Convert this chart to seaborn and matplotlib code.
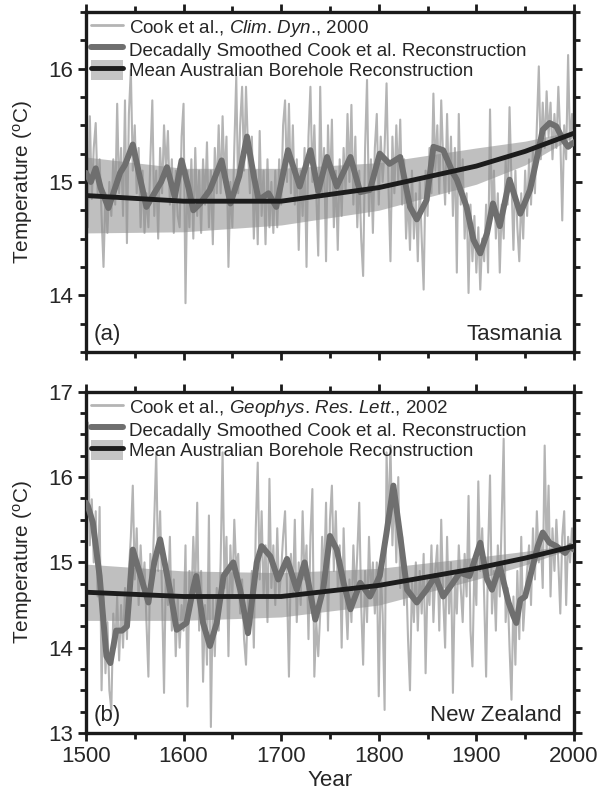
import numpy as np
import matplotlib
matplotlib.use("Agg")
import matplotlib.pyplot as plt
import seaborn as sns
from matplotlib.ticker import MultipleLocator
from matplotlib.lines import Line2D
from matplotlib.patches import Patch

# Annual reconstructions, read every second year (1500, 1502, ... 2000)
annual_years = list(range(1500, 2001, 2))

tas_annual = [
    15.1, 14.6, 15.58, 14.85, 15.3, 15.52, 14.9, 15.2, 14.7, 14.25,
    14.9, 14.55, 15.0, 14.7, 15.2, 14.8, 15.69, 14.9, 15.3, 14.7,
    15.72, 14.46, 15.6, 15.99, 15.1, 15.5, 14.9, 15.3, 14.6, 15.1,
    14.55, 14.9, 14.6, 15.2, 15.72, 14.7, 15.1, 14.5, 15.3, 14.9,
    15.5, 15.1, 15.45, 14.8, 15.2, 14.55, 15.1, 14.7, 14.6, 15.4,
    15.69, 13.93, 15.1, 14.6, 15.2, 14.5, 15.3, 14.7, 15.1, 14.55,
    15.2, 14.8, 15.35, 14.6, 15.1, 14.45, 15.3, 14.9, 15.5, 14.9,
    15.58, 15.0, 15.4, 14.25, 15.0, 14.6, 15.3, 15.93, 14.9, 15.5,
    15.84, 15.1, 15.84, 15.3, 14.9, 15.4, 14.5, 15.1, 14.45, 15.45,
    14.7, 15.1, 14.45, 15.2, 14.6, 15.0, 14.55, 15.1, 14.6, 15.2,
    14.8, 15.5, 15.72, 15.0, 15.69, 14.9, 15.5, 14.8, 15.2, 14.4,
    15.1, 14.7, 15.3, 14.25, 15.4, 15.84, 15.0, 15.5, 14.9, 14.35,
    15.84, 14.9, 15.3, 14.3, 15.5, 14.9, 15.55, 14.6, 15.1, 14.4,
    15.2, 14.7, 15.3, 14.9, 15.6, 15.0, 15.68, 14.8, 15.4, 14.6,
    15.1, 14.5, 14.17, 15.3, 15.9, 14.7, 15.2, 14.55, 15.3, 15.6,
    14.8, 15.4, 15.0, 15.3, 15.87, 14.95, 14.3, 15.4, 14.9, 15.5,
    15.0, 15.55, 14.8, 15.2, 14.5, 14.9, 14.4, 15.1, 14.5, 14.9,
    14.3, 15.0, 14.5, 14.05, 15.1, 14.7, 15.3, 14.9, 15.78, 15.1,
    15.5, 14.9, 15.72, 15.2, 14.8, 15.6, 14.9, 15.4, 14.7, 15.3,
    14.2, 15.6, 14.8, 15.2, 14.5, 14.9, 14.02, 14.8, 14.3, 14.7,
    14.2, 14.6, 14.05, 14.5, 14.3, 14.8, 14.2, 15.64, 14.7, 15.1,
    14.5, 14.9, 14.2, 14.8, 14.5, 15.2, 14.8, 15.66, 15.0, 14.4,
    15.1, 14.6, 14.3, 14.9, 14.5, 15.1, 14.7, 15.2, 14.8, 15.3,
    14.9, 15.5, 16.02, 15.2, 15.7, 15.3, 15.8, 15.4, 15.7, 15.2,
    15.6, 15.3, 15.84, 15.4, 14.66, 15.5, 15.2, 16.12, 15.3, 15.6,
    15.4,
]

nz_annual = [
    15.3, 16.64, 15.2, 15.74, 15.0, 15.6, 14.6, 15.65, 13.5, 14.6,
    13.7, 14.3, 13.5, 13.27, 14.4, 14.0, 14.6, 13.85, 14.5, 14.0,
    14.7, 14.1, 14.9, 15.3, 15.9, 14.8, 15.4, 14.5, 15.2, 14.7,
    15.0, 14.3, 13.66, 15.1, 14.8, 15.5, 16.29, 14.9, 15.6, 14.6,
    13.47, 15.0, 14.5, 15.3, 14.2, 14.8, 13.9, 14.6, 14.0, 14.5,
    14.2, 15.2, 13.31, 14.9, 14.5, 15.3, 14.7, 15.7, 14.2, 14.9,
    13.6, 14.5, 13.8, 15.55, 13.07, 14.6, 13.9, 14.7, 14.2, 15.0,
    16.29, 14.7, 15.3, 13.9, 15.2, 14.6, 15.5, 14.9, 15.1, 14.4,
    14.8, 14.1, 13.8, 14.6, 14.3, 14.9, 14.0, 15.4, 16.17, 14.8,
    15.6, 14.6, 15.2, 14.3, 15.98, 14.7, 15.2, 14.5, 15.4, 14.6,
    14.9, 15.3, 15.6, 14.7, 13.66, 15.1, 14.6, 15.5, 14.3, 15.0,
    14.5, 15.6, 14.8, 15.2, 14.1, 15.3, 15.86, 13.66, 14.3, 13.9,
    14.4, 15.3, 14.8, 15.7, 14.2, 15.5, 15.9, 14.9, 15.6, 14.7,
    15.2, 14.0, 15.4, 14.6, 14.1, 14.8, 14.3, 15.2, 14.6, 15.1,
    15.7, 14.5, 13.8, 14.9, 14.3, 15.3, 14.6, 15.0, 14.4, 15.0,
    13.43, 14.9, 14.4, 13.27, 16.29, 15.4, 16.37, 15.2, 15.9, 15.0,
    16.0, 14.7, 15.3, 14.5, 14.9, 14.1, 13.5, 14.8, 14.3, 15.0,
    14.2, 14.9, 14.4, 15.1, 13.7, 14.8, 14.5, 15.2, 14.3, 14.9,
    15.2, 14.2, 15.5, 14.6, 14.0, 15.3, 14.4, 15.0, 13.47, 14.8,
    14.4, 15.2, 14.7, 14.3, 15.1, 14.6, 15.78, 14.2, 13.78, 15.0,
    14.5, 15.95, 14.9, 15.4, 14.6, 13.66, 15.1, 16.02, 14.4, 14.9,
    14.2, 15.2, 14.6, 15.5, 16.45, 14.3, 14.7, 14.0, 13.39, 14.6,
    13.8, 14.9, 14.1, 15.3, 14.2, 14.6, 14.9, 15.2, 14.5, 15.4,
    14.8, 15.6, 15.0, 15.3, 14.7, 16.37, 15.1, 15.9, 14.6, 15.4,
    14.9, 15.5, 15.0, 14.4, 15.3, 15.6, 14.5, 15.3, 15.0, 15.4,
    15.2,
]

# Decadally smoothed series (turning points)
tas_smooth_years = [1500, 1505, 1510, 1515, 1523, 1530, 1535, 1540, 1548, 1555,
                    1562, 1570, 1577, 1583, 1591, 1598, 1605, 1610, 1617, 1627,
                    1639, 1648, 1657, 1665, 1672, 1677, 1687, 1695, 1707, 1719,
                    1730, 1738, 1747, 1757, 1771, 1781, 1791, 1801, 1811, 1822,
                    1832, 1839, 1849, 1856, 1866, 1876, 1880, 1890, 1897, 1904,
                    1911, 1917, 1924, 1934, 1945, 1955, 1963, 1968, 1975, 1982,
                    1989, 1994, 2000]
tas_smooth = [15.08, 15.0, 15.12, 14.95, 14.77, 14.95, 15.08, 15.15, 15.33, 15.05,
              14.78, 14.9, 15.0, 15.13, 14.87, 15.19, 14.95, 14.75, 14.81, 14.93,
              15.19, 14.81, 15.05, 15.4, 15.05, 14.84, 14.9, 14.78, 15.28, 14.96,
              15.28, 14.92, 15.22, 14.96, 15.22, 14.91, 14.93, 15.25, 15.16, 15.22,
              14.78, 14.67, 14.84, 15.31, 15.28, 15.08, 15.02, 14.78, 14.49, 14.37,
              14.55, 14.81, 14.61, 15.02, 14.72, 14.93, 15.25, 15.46, 15.52, 15.49,
              15.37, 15.31, 15.35]

nz_smooth_years = [1500, 1502, 1507, 1514, 1521, 1525, 1531, 1537, 1542, 1548,
                   1555, 1564, 1570, 1576, 1586, 1593, 1603, 1610, 1613, 1620,
                   1627, 1634, 1641, 1651, 1658, 1666, 1675, 1680, 1689, 1697,
                   1706, 1716, 1724, 1735, 1743, 1750, 1757, 1764, 1771, 1781,
                   1791, 1801, 1808, 1815, 1822, 1829, 1839, 1849, 1858, 1866,
                   1876, 1883, 1893, 1904, 1911, 1916, 1924, 1933, 1938, 1941,
                   1945, 1950, 1957, 1963, 1968, 1975, 1982, 1991, 1996, 2000]
nz_smooth = [15.7, 15.66, 15.47, 14.84, 13.9, 13.82, 14.2, 14.2, 14.25, 15.15,
             14.88, 14.53, 15.0, 15.27, 14.68, 14.21, 14.29, 14.7, 14.84, 14.29,
             14.02, 14.29, 14.84, 15.0, 14.68, 14.17, 15.0, 15.19, 15.07, 14.8,
             15.04, 14.68, 15.0, 14.33, 14.68, 15.31, 15.15, 14.76, 14.45, 14.76,
             14.6, 14.84, 15.35, 15.9, 15.31, 14.68, 14.53, 14.68, 14.84, 14.6,
             14.76, 14.88, 14.84, 15.23, 14.8, 14.68, 14.96, 14.53, 14.37, 14.29,
             14.56, 14.6, 14.92, 15.19, 15.35, 15.23, 15.19, 15.11, 15.19, 15.15]

# Mean borehole reconstruction with its uncertainty band
bh_years = [1500, 1600, 1700, 1800, 1900, 1950, 2000]
tas_bh = [14.88, 14.83, 14.83, 14.95, 15.14, 15.27, 15.43]
tas_bh_hi = [15.22, 15.12, 15.12, 15.17, 15.3, 15.36, 15.45]
tas_bh_lo = [14.55, 14.56, 14.62, 14.75, 14.98, 15.15, 15.4]
nz_bh = [14.65, 14.6, 14.6, 14.73, 14.93, 15.05, 15.19]
nz_bh_hi = [14.98, 14.9, 14.88, 14.93, 15.06, 15.13, 15.21]
nz_bh_lo = [14.32, 14.32, 14.36, 14.5, 14.8, 14.97, 15.17]

sns.set_style("ticks")
plt.rcParams['font.family'] = ['Liberation Sans', 'DejaVu Sans']
plt.rcParams['mathtext.fontset'] = 'custom'
plt.rcParams['mathtext.rm'] = 'Liberation Sans'
plt.rcParams['mathtext.it'] = 'Liberation Sans:italic'

c_annual = '#b4b4b4'
c_smooth = '#6f6f6f'
c_bh = '#1c1c1c'
c_band = '#8c8c8c'

fig = plt.figure(figsize=(6.01, 7.98), dpi=100)
ax1 = fig.add_axes([0.143, 0.559, 0.812, 0.426])
ax2 = fig.add_axes([0.143, 0.0815, 0.812, 0.4275])

panels = [
    (ax1, tas_annual, tas_smooth_years, tas_smooth, tas_bh, tas_bh_hi, tas_bh_lo,
     "Cook et al., $\\mathit{Clim}$. $\\mathit{Dyn}$., 2000",
     (13.5, 16.5), [14, 15, 16], "(a)", "Tasmania"),
    (ax2, nz_annual, nz_smooth_years, nz_smooth, nz_bh, nz_bh_hi, nz_bh_lo,
     "Cook et al., $\\mathit{Geophys}$. $\\mathit{Res}$. $\\mathit{Lett}$., 2002",
     (13, 17), [13, 14, 15, 16, 17], "(b)", "New Zealand"),
]

for ax, annual, sm_years, sm, bh, bh_hi, bh_lo, lab, ylim, yticks, tag, region in panels:
    sns.lineplot(x=annual_years, y=annual, ax=ax, color=c_annual, lw=1.5,
                 estimator=None, zorder=1)
    ax.fill_between(bh_years, bh_lo, bh_hi, color=c_band, alpha=0.55, lw=0, zorder=2)
    sns.lineplot(x=sm_years, y=sm, ax=ax, color=c_smooth, lw=4.3,
                 estimator=None, zorder=3)
    sns.lineplot(x=bh_years, y=bh, ax=ax, color=c_bh, lw=3.5,
                 estimator=None, zorder=4)

    ax.set_xlim(1500, 2000)
    ax.set_ylim(*ylim)
    ax.set_xticks([1500, 1600, 1700, 1800, 1900, 2000])
    ax.set_yticks(yticks)
    ax.xaxis.set_minor_locator(MultipleLocator(50))
    ax.yaxis.set_minor_locator(MultipleLocator(0.25))
    ax.tick_params(which='both', direction='out', top=True, right=True,
                   width=2, labelsize=16, color='#1a1a1a')
    ax.tick_params(which='major', length=6)
    ax.tick_params(which='minor', length=4)
    for s in ax.spines.values():
        s.set_linewidth(2.4)
        s.set_color('#1a1a1a')
    ax.set_ylabel("Temperature ($^{\\rm o}$C)", fontsize=15, labelpad=9)
    ax.set_xlabel("")

    handles = [
        Line2D([], [], color=c_annual, lw=2),
        Line2D([], [], color=c_smooth, lw=4.3),
        (Patch(facecolor=c_band, alpha=0.5, lw=0), Line2D([], [], color=c_bh, lw=3.5)),
    ]
    labels = [lab, "Decadally Smoothed Cook et al. Reconstruction",
              "Mean Australian Borehole Reconstruction"]
    ax.legend(handles, labels, loc='upper left', frameon=False, fontsize=13.5,
              handlelength=1.75, handleheight=1.3, handletextpad=0.3,
              labelspacing=0.0, borderaxespad=0.1, borderpad=0.15)

    ax.text(0.015, 0.02, tag, transform=ax.transAxes, fontsize=16, ha='left', va='bottom')
    ax.text(0.975, 0.02, region, transform=ax.transAxes, fontsize=16, ha='right', va='bottom')

ax1.tick_params(labelbottom=False)
ax2.set_xlabel("Year", fontsize=16, labelpad=2)

fig.savefig("out.png", dpi=100)
